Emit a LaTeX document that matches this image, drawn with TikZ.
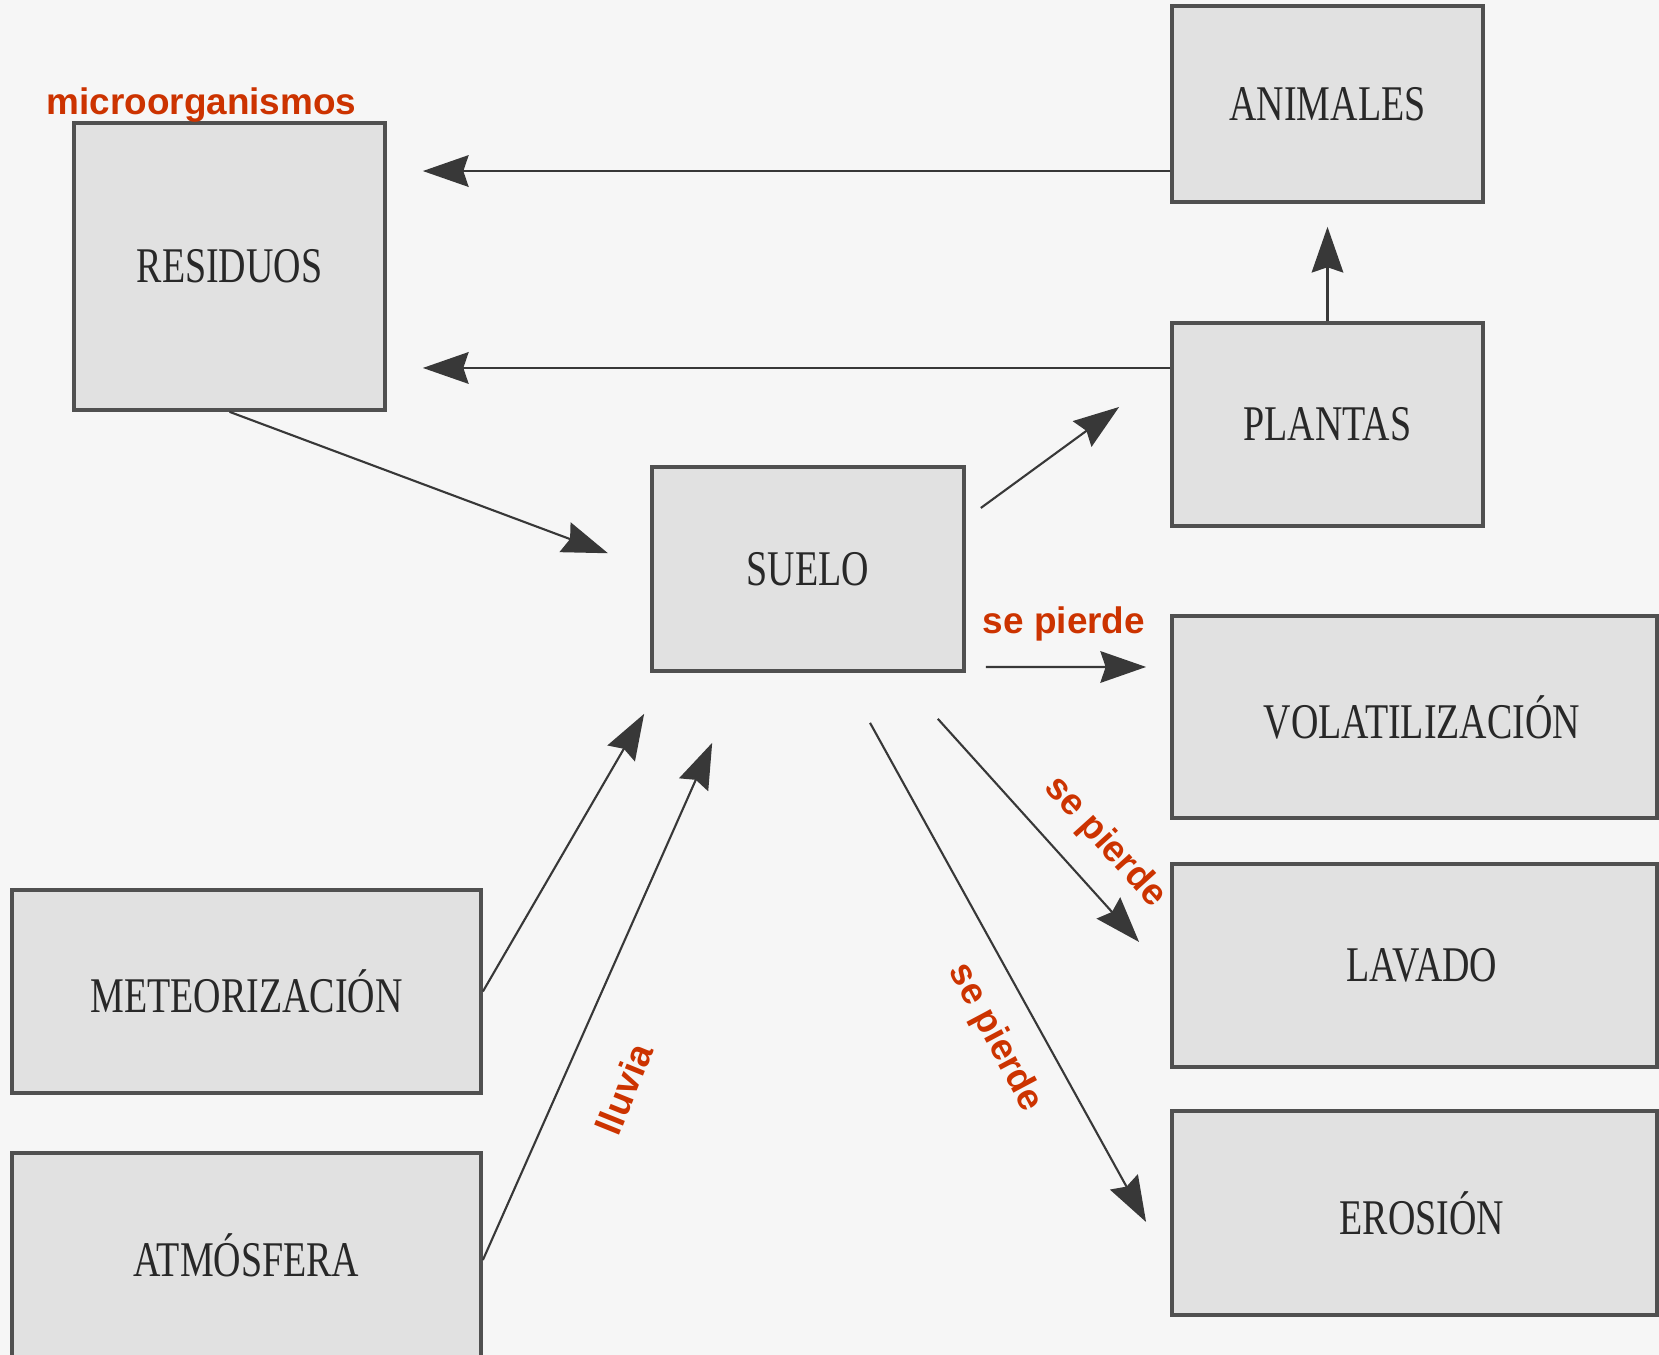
\documentclass[tikz,border=0pt]{standalone}
\usepackage{fontspec}
\setmainfont{Liberation Serif}[FakeStretch=0.76]
\newfontfamily\labelfont{Liberation Sans}
\usetikzlibrary{arrows.meta}

\definecolor{paper}{RGB}{246,246,246}
\definecolor{boxfill}{RGB}{225,225,225}
\definecolor{boxline}{RGB}{80,80,80}
\definecolor{boxtext}{RGB}{40,40,40}
\definecolor{lossred}{RGB}{204,51,0}

\tikzset{
    box/.style={draw=boxline, fill=boxfill, line width=1pt, inner sep=0pt,
        text=boxtext, font=\fontsize{14.2}{16}\selectfont},
    flow/.style={draw=black!78, line width=0.6pt,
        -{Stealth[length=13pt,width=9pt,inset=1.5pt]}},
    note/.style={text=lossred, inner sep=0pt,
        font=\labelfont\bfseries\fontsize{10.5}{12}\selectfont},
}

\begin{document}
\begin{tikzpicture}[x=0.01cm,y=-0.01cm]
    \useasboundingbox (0,0) rectangle (1659,1355);
    \clip (0,0) rectangle (1659,1355);
    \fill[paper] (0,0) rectangle (1659,1355);

    % boxes
    \node[box, minimum width=3.11cm, minimum height=2.87cm] (resid) at (229.5,266.5) {RESIDUOS};
    \node[box, minimum width=3.11cm, minimum height=1.96cm] (anim) at (1327.5,104) {ANIMALES};
    \node[box, minimum width=3.11cm, minimum height=2.03cm] (plant) at (1327.5,424.5) {PLANTAS};
    \node[box, minimum width=3.12cm, minimum height=2.04cm] (suelo) at (808,569) {SUELO};
    \node[box, minimum width=4.85cm, minimum height=2.02cm] (vol) at (1414.5,717) {\hspace*{0.15cm}VOLATILIZACIÓN};
    \node[box, minimum width=4.85cm, minimum height=2.03cm] (lav) at (1414.5,965.5) {\hspace*{0.15cm}LAVADO};
    \node[box, minimum width=4.85cm, minimum height=2.04cm] (eros) at (1414.5,1213) {\hspace*{0.15cm}EROSIÓN};
    \node[box, minimum width=4.69cm, minimum height=2.03cm] (meteo) at (246.5,991.5) {METEORIZACIÓN};
    \node[box, minimum width=4.69cm, minimum height=2.04cm] (atm) at (246.5,1255) {ATMÓSFERA};

    % arrows
    \coordinate (a1) at ([yshift=-0.67cm]anim.west);
    \coordinate (p1) at ([yshift=0.565cm]plant.west);
    \draw[flow, shorten >=0.36cm] (a1) -- (a1 -| resid.east);
    \draw[flow, shorten >=0.36cm] (p1) -- (p1 -| resid.east);
    \draw[flow, shorten >=0.23cm] (plant.north) -- (anim.south);
    \draw[flow, shorten >=0.45cm] (resid.south) -- (suelo.west);
    \draw[flow] ([shift={(0.15cm,0.61cm)}]suelo.east) -- ([shift={(-0.51cm,0.175cm)}]plant.west);
    \draw[flow] ([shift={(0.2cm,-0.98cm)}]suelo.east) -- ([shift={(-0.24cm,0.5cm)}]vol.west);
    \draw[flow] ([shift={(-0.28cm,-0.46cm)}]suelo.south east) -- ([shift={(-0.31cm,0.235cm)}]lav.west);
    \draw[flow] ([shift={(0.62cm,-0.5cm)}]suelo.south) -- ([shift={(-0.24cm,-0.09cm)}]eros.west);
    \draw[flow] (meteo.east) -- ([shift={(-0.06cm,-0.41cm)}]suelo.south west);
    \draw[flow] ([yshift=-0.05cm]atm.east) -- ([shift={(0.62cm,-0.7cm)}]suelo.south west);

    % labels
    \node[note, anchor=base] (lmicro) at (201.5,115) {microorganismos};
    \node[note, anchor=base] (lvol) at (1064,634) {se pierde};
    \node[note, rotate=-48] (llav) at (1105,842) {se pierde};
    \node[note, rotate=-62] (leros) at (995,1038) {se pierde};
    \node[note, rotate=68] (llluvia) at (624,1089) {lluvia};
\end{tikzpicture}
\end{document}
